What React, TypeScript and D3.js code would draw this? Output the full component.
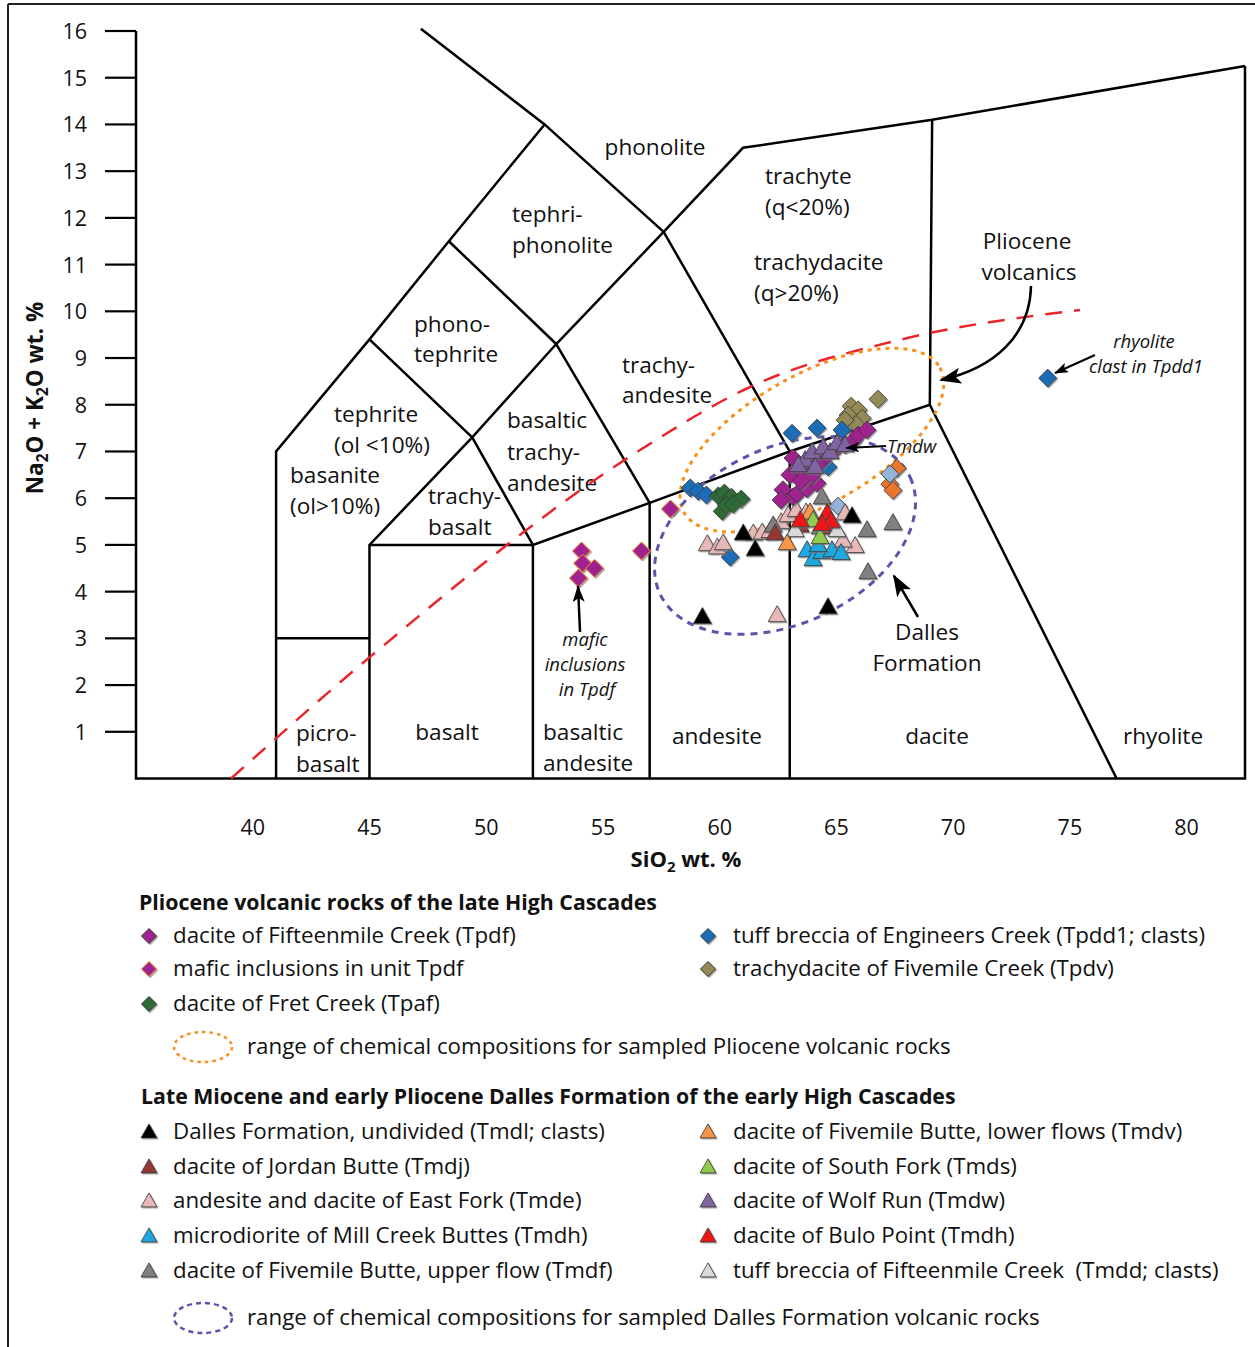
import React from 'react';
import * as d3 from 'd3';

// ---------- axes ----------
const xTickValues = [40, 45, 50, 55, 60, 65, 70, 75, 80];
const yTickValues = [1, 2, 3, 4, 5, 6, 7, 8, 9, 10, 11, 12, 13, 14, 15, 16];

// ---------- TAS field boundaries [SiO2, Na2O+K2O] ----------
const tasLines: [number, number][][] = [
  [[41, 0], [41, 7], [45, 9.4], [48.4, 11.5], [52.5, 14], [47.2, 16.05]],
  [[41, 3], [45, 3]],
  [[45, 0], [45, 5], [49.4, 7.3], [53, 9.3], [57.6, 11.7], [61, 13.5], [69.1, 14.1], [82.5, 15.25]],
  [[45, 5], [52, 5], [57, 5.9], [63, 7], [69, 8], [77, 0]],
  [[52, 0], [52, 5]],
  [[57, 0], [57, 5.9]],
  [[63, 0], [63, 7]],
  [[69, 8], [69.1, 14.1]],
  [[49.4, 7.3], [52, 5]],
  [[53, 9.3], [57, 5.9]],
  [[57.6, 11.7], [63, 7]],
  [[45, 9.4], [49.4, 7.3]],
  [[48.4, 11.5], [53, 9.3]],
  [[52.5, 14], [57.6, 11.7]],
];
const alkalineLine: [number, number][] = [
  [39.07, 0], [45.11, 2.64], [56.59, 7.03], [61.3, 8.38], [67.72, 9.39], [75.43, 10.03],
];

// ---------- data: diamonds (Pliocene) ----------
const tpdf: [number, number][] = [
  [63.14, 6.86], [63.01, 6.5], [62.71, 6.18], [63.14, 6.03], [62.63, 5.96], [63.31, 6.09],
  [63.74, 6.2], [64.17, 6.32], [63.87, 6.71], [63.44, 6.6], [63.96, 6.5], [64.31, 6.77],
  [65.37, 7.14], [65.67, 7.2], [65.93, 7.35], [66.31, 7.46], [65.07, 7.1], [64.6, 6.92], [63.49, 6.37],
];
const tpdfMafic: [number, number][] = [
  [54.08, 4.87], [54.13, 4.61], [54.64, 4.5], [53.95, 4.29], [56.65, 4.87], [57.89, 5.77],
];
const tpaf: [number, number][] = [
  [59.94, 6.05], [60.2, 6.11], [60.5, 6.02], [60.92, 5.98], [60.11, 5.72], [60.28, 5.85], [60.58, 5.87],
];
const tpdd1: [number, number][] = [
  [58.74, 6.22], [59.08, 6.15], [59.43, 6.07], [60.45, 4.74], [63.1, 7.39], [64.17, 7.5],
  [65.24, 7.46], [64.64, 6.67], [63.57, 6.43], [63.87, 6.32], [74.05, 8.57],
];
const tpdd1Light: [number, number][] = [[67.29, 6.52], [65.07, 5.83]];
const orangeDiamonds: [number, number][] = [[67.59, 6.64], [67.29, 6.3], [67.42, 6.17]];
const tpdv: [number, number][] = [
  [66.78, 8.12], [65.63, 7.97], [65.93, 7.89], [65.5, 7.78], [66.1, 7.71], [65.84, 7.58], [65.37, 7.67],
];

// ---------- data: triangles (Dalles Formation) ----------
const tmdl: [number, number][] = [[61.01, 5.25], [61.52, 4.91], [59.26, 3.46], [65.67, 5.62], [64.64, 3.67]];
const tmdj: [number, number][] = [[62.38, 5.25], [63.45, 5.42], [64.69, 5.38]];
const tmde: [number, number][] = [
  [59.47, 5.02], [59.9, 4.95], [60.15, 5.04], [61.44, 5.25], [61.82, 5.27], [62.16, 5.3], [62.63, 5.49],
  [62.93, 5.64], [63.28, 5.75], [63.7, 5.7], [65.37, 5.68], [65.8, 4.98], [65.28, 5.1], [62.46, 3.5],
];
const tmdhMill: [number, number][] = [[63.74, 4.89], [64.0, 4.7], [64.38, 4.85], [64.81, 4.89], [65.2, 4.83], [64.22, 5.0]];
const tmdf: [number, number][] = [[64.39, 6.02], [64.3, 5.38], [66.31, 5.32], [67.42, 5.47], [66.35, 4.42], [62.29, 5.42]];
const tmdv: [number, number][] = [[62.89, 5.04], [63.87, 5.7]];
const tmds: [number, number][] = [[64.0, 5.53], [64.3, 5.17]];
const tmdw: [number, number][] = [
  [63.66, 6.82], [63.96, 6.99], [64.43, 7.09], [64.73, 6.99], [65.03, 7.18], [65.37, 7.14], [64.09, 6.67], [63.36, 6.71],
];
const tmdhBulo: [number, number][] = [[63.45, 5.53], [64.6, 5.68], [64.77, 5.51], [64.39, 5.45]];
const tmdd: [number, number][] = [[65.03, 5.32], [63.23, 5.32]];

// ---------- legend ----------
const legend1Labels = [
  'dacite of Fifteenmile Creek (Tpdf)',
  'mafic inclusions in unit Tpdf',
  'dacite of Fret Creek (Tpaf)',
  'tuff breccia of Engineers Creek (Tpdd1; clasts)',
  'trachydacite of Fivemile Creek (Tpdv)',
];
const legend2Labels = [
  'Dalles Formation, undivided (Tmdl; clasts)',
  'dacite of Jordan Butte (Tmdj)',
  'andesite and dacite of East Fork (Tmde)',
  'microdiorite of Mill Creek Buttes (Tmdh)',
  'dacite of Fivemile Butte, upper flow (Tmdf)',
  'dacite of Fivemile Butte, lower flows (Tmdv)',
  'dacite of South Fork (Tmds)',
  'dacite of Wolf Run (Tmdw)',
  'dacite of Bulo Point (Tmdh)',
  'tuff breccia of Fifteenmile Creek  (Tmdd; clasts)',
];

const C = {
  tpdf: '#A0238E', mafEdge: '#F7941D', tpaf: '#2E6B36', tpdd1: '#1C6DB7', tpdd1Light: '#95B3D7',
  orange: '#E8772A', tpdv: '#948A54', tmdl: '#000000', tmdj: '#953735', tmde: '#E6B9B8',
  tmdhMill: '#1FA8E0', tmdf: '#808080', tmdv: '#F79646', tmds: '#8FCB4E', tmdw: '#8064A2',
  tmdhBulo: '#F01818', tmdd: '#D9D9D9', red: '#E8262B', ellO: '#F7901E', ellP: '#5B55AA',
};

const FONT = "'Open Sans', Lato, sans-serif";
const FS = 22.3;
const FS_LAB = 22.6;
const FS_IT = 18.5;

const diamondPath = (s: number) => `M0,${-s}L${s},0L0,${s}L${-s},0Z`;
const trianglePath = (w: number, h: number) => `M0,${-h * 0.58}L${w / 2},${h * 0.42}L${-w / 2},${h * 0.42}Z`;

export default function App() {
  const x = d3.scaleLinear().domain([35, 82.5]).range([136, 1245]);
  const y = d3.scaleLinear().domain([0, 16]).range([778.5, 31]);
  const line = d3.line<[number, number]>().x((d) => x(d[0])).y((d) => y(d[1]));
  const curve = d3.line<[number, number]>().x((d) => x(d[0])).y((d) => y(d[1])).curve(d3.curveMonotoneX);

  const ellipse = (cx: number, cy: number, rx: number, ry: number, rot: number, color: string, dash: string, key: string) => (
    <ellipse key={key} cx={0} cy={0} rx={rx} ry={ry}
      transform={`translate(${x(cx)},${y(cy)}) rotate(${rot})`}
      fill="none" stroke={color} strokeWidth={3} strokeDasharray={dash} />
  );

  const dia = (pts: [number, number][], fill: string, stroke: string, key: string, sw = 0.8) =>
    pts.map((p, i) => (
      <path key={key + i} d={diamondPath(9)} transform={`translate(${x(p[0])},${y(p[1])})`}
        fill={fill} stroke={stroke} strokeWidth={sw} filter="url(#sh)" />
    ));
  const tri = (pts: [number, number][], fill: string, key: string) =>
    pts.map((p, i) => (
      <path key={key + i} d={trianglePath(18, 16)} transform={`translate(${x(p[0])},${y(p[1])})`}
        fill={fill} stroke="#333" strokeWidth={0.8} filter="url(#sh)" />
    ));

  const txt = (s: string, px: number, py: number, anchor: string = 'start', extra: any = {}) => (
    <text key={s + px + py} x={px} y={py} textAnchor={anchor} fontFamily={FONT} fontSize={FS_LAB} fill="#111" {...extra}>{s}</text>
  );
  const it = { fontStyle: 'italic', fontSize: FS_IT };

  const legendRow1 = [
    { lab: legend1Labels[0], fill: C.tpdf, stroke: '#333', col: 0, row: 0 },
    { lab: legend1Labels[1], fill: C.tpdf, stroke: C.mafEdge, col: 0, row: 1 },
    { lab: legend1Labels[2], fill: C.tpaf, stroke: '#333', col: 0, row: 2 },
    { lab: legend1Labels[3], fill: C.tpdd1, stroke: '#333', col: 1, row: 0 },
    { lab: legend1Labels[4], fill: C.tpdv, stroke: '#333', col: 1, row: 1 },
  ];
  const rows1 = [936, 969, 1004];
  const legendFills2 = [C.tmdl, C.tmdj, C.tmde, C.tmdhMill, C.tmdf, C.tmdv, C.tmds, C.tmdw, C.tmdhBulo, C.tmdd];
  const rows2 = [1132, 1167, 1201, 1236, 1271];
  const colX = [149, 708];
  const colT = [173, 733];

  return (
    <svg width={1255} height={1347} style={{ position: 'absolute', left: 0, top: 0, background: '#fff' }}>
      <defs>
        <filter id="sh" x="-30%" y="-30%" width="160%" height="160%">
          <feDropShadow dx="1.2" dy="1.2" stdDeviation="0.4" floodColor="#777" floodOpacity="0.7" />
        </filter>
        <marker id="ahB" markerUnits="userSpaceOnUse" markerWidth={24} markerHeight={18} refX={20} refY={8} orient="auto">
          <path d="M0,0L22,8L0,16L5,8Z" fill="#000" />
        </marker>
        <marker id="ahM" markerUnits="userSpaceOnUse" markerWidth={20} markerHeight={14} refX={16} refY={6} orient="auto">
          <path d="M0,0L17,6L0,12L4,6Z" fill="#000" />
        </marker>
        <marker id="ahS" markerUnits="userSpaceOnUse" markerWidth={16} markerHeight={12} refX={13} refY={5} orient="auto">
          <path d="M0,0L14,5L0,10L3,5Z" fill="#000" />
        </marker>
      </defs>
      <rect x={0} y={0} width={1255} height={1347} fill="#fff" />
      {/* figure border */}
      <line x1={8} y1={4} x2={1255} y2={4} stroke="#222" strokeWidth={2} />
      <line x1={8} y1={4} x2={8} y2={1347} stroke="#222" strokeWidth={2} />

      {/* frame */}
      <path d={line([[35, 16], [35, 0], [82.5, 0], [82.5, 15.25]]) || ''} fill="none" stroke="#000" strokeWidth={2.5} />
      {/* y ticks */}
      {yTickValues.map((v) => (
        <g key={'yt' + v}>
          <line x1={105} x2={x(35)} y1={y(v)} y2={y(v)} stroke="#000" strokeWidth={2.2} />
          <text x={87} y={y(v) + 8} textAnchor="end" fontFamily={FONT} fontSize={21.5} fill="#111">{v}</text>
        </g>
      ))}
      {xTickValues.map((v) => (
        <g key={'xt' + v}>
          <text x={x(v)} y={835} textAnchor="middle" fontFamily={FONT} fontSize={21.5} fill="#111">{v}</text>
        </g>
      ))}
      <text x={686} y={867} textAnchor="middle" fontFamily={FONT} fontSize={22} fontWeight="bold" fill="#111">
        SiO<tspan dy={5} fontSize={15}>2</tspan><tspan dy={-5}> wt. %</tspan>
      </text>
      <text transform="translate(43,398) rotate(-90)" textAnchor="middle" fontFamily={FONT} fontSize={22.5} fontWeight="bold" fill="#111">
        Na<tspan dy={5} fontSize={15.5}>2</tspan><tspan dy={-5}>O + K</tspan><tspan dy={5} fontSize={15.5}>2</tspan><tspan dy={-5}>O wt. %</tspan>
      </text>

      {/* TAS boundaries */}
      {tasLines.map((l, i) => (
        <path key={'tas' + i} d={line(l) || ''} fill="none" stroke="#000" strokeWidth={2.5} strokeLinejoin="miter" />
      ))}

      {/* field labels */}
      {txt('phonolite', 655, 155, 'middle')}
      {txt('tephri-', 512, 222)}
      {txt('phonolite', 512, 253)}
      {txt('trachyte', 765, 184)}
      {txt('(q<20%)', 765, 215)}
      {txt('trachydacite', 754, 270)}
      {txt('(q>20%)', 754, 301)}
      {txt('Pliocene', 1027, 249, 'middle')}
      {txt('volcanics', 1029, 280, 'middle')}
      {txt('phono-', 414, 332)}
      {txt('tephrite', 414, 362)}
      {txt('trachy-', 622, 373)}
      {txt('andesite', 622, 403)}
      {txt('tephrite', 334, 422)}
      {txt('(ol <10%)', 334, 453)}
      {txt('basanite', 290, 483)}
      {txt('(ol>10%)', 290, 514)}
      {txt('basaltic', 507, 428)}
      {txt('trachy-', 507, 460)}
      {txt('andesite', 507, 491)}
      {txt('trachy-', 428, 504)}
      {txt('basalt', 428, 535)}
      {txt('picro-', 296, 741)}
      {txt('basalt', 296, 772)}
      {txt('basalt', 447, 740, 'middle')}
      {txt('basaltic', 543, 740)}
      {txt('andesite', 543, 771)}
      {txt('andesite', 717, 744, 'middle')}
      {txt('dacite', 937, 744, 'middle')}
      {txt('rhyolite', 1163, 744, 'middle')}
      {txt('Dalles', 927, 640, 'middle')}
      {txt('Formation', 927, 671, 'middle')}
      {txt('mafic', 585, 646, 'middle', it)}
      {txt('inclusions', 585, 671, 'middle', it)}
      {txt('in Tpdf', 587, 696, 'middle', it)}
      {txt('rhyolite', 1144, 348, 'middle', it)}
      {txt('clast in Tpdd1', 1146, 373, 'middle', it)}
      {txt('Tmdw', 887, 453, 'start', it)}

      {/* alkaline / subalkaline dashed line */}
      <path d={curve(alkalineLine) || ''} fill="none" stroke={C.red} strokeWidth={2.5} strokeDasharray="17 12" />

      {/* ellipses */}
      {ellipse(63.95, 7.245, 147, 65, -29.5, C.ellO, '4 5', 'eO')}
      {ellipse(62.8, 5.2, 138, 88, -25, C.ellP, '7 6', 'eP')}

      {/* markers */}
      {dia(tpdv, C.tpdv, '#333', 'tpdv')}
      {dia(tpdd1, C.tpdd1, '#333', 'tpdd1')}
      {dia(tpaf, C.tpaf, '#333', 'tpaf')}
      {dia(tpdfMafic, C.tpdf, C.mafEdge, 'maf', 1)}
      {dia(orangeDiamonds, C.orange, '#333', 'orD')}
      {dia(tpdd1Light, C.tpdd1Light, '#333', 'tpl')}
      {tri(tmde, C.tmde, 'tmde')}
      {tri(tmdf, C.tmdf, 'tmdf')}
      {tri(tmdl, C.tmdl, 'tmdl')}
      {tri(tmdj, C.tmdj, 'tmdj')}
      {tri(tmdd, C.tmdd, 'tmdd')}
      {tri(tmdhMill, C.tmdhMill, 'tmdhM')}
      {tri(tmdv, C.tmdv, 'tmdv')}
      {tri(tmds, C.tmds, 'tmds')}
      {tri(tmdhBulo, C.tmdhBulo, 'tmdhB')}
      {dia(tpdf, C.tpdf, '#333', 'tpdf')}
      {tri(tmdw, C.tmdw, 'tmdw')}

      {/* arrows */}
      <path d="M1031,286 C1030,335 995,368 941,380" fill="none" stroke="#000" strokeWidth={2.5} markerEnd="url(#ahB)" />
      <line x1={580} y1={632} x2={578} y2={586} stroke="#000" strokeWidth={2.5} markerEnd="url(#ahM)" />
      <line x1={918} y1={617} x2={894} y2={576} stroke="#000" strokeWidth={2.5} markerEnd="url(#ahB)" />
      <line x1={1095} y1={355} x2={1055} y2={373} stroke="#000" strokeWidth={2} markerEnd="url(#ahS)" />
      <line x1={886} y1={446} x2={846} y2={448} stroke="#000" strokeWidth={2} markerEnd="url(#ahS)" />

      {/* legend section 1 */}
      <text x={139} y={910} fontFamily={FONT} fontSize={21.3} fontWeight="bold" fill="#111">Pliocene volcanic rocks of the late High Cascades</text>
      {legendRow1.map((itm, i) => (
        <g key={'l1' + i}>
          <path d={diamondPath(7.5)} transform={`translate(${colX[itm.col]},${rows1[itm.row]})`} fill={itm.fill} stroke={itm.stroke} strokeWidth={1} filter="url(#sh)" />
          <text x={colT[itm.col]} y={rows1[itm.row] + 7} fontFamily={FONT} fontSize={FS} fill="#111">{itm.lab}</text>
        </g>
      ))}
      <ellipse cx={203} cy={1047} rx={29} ry={15} fill="none" stroke={C.ellO} strokeWidth={2.5} strokeDasharray="3.5 4" />
      <text x={247} y={1054} fontFamily={FONT} fontSize={FS} fill="#111">range of chemical compositions for sampled Pliocene volcanic rocks</text>

      {/* legend section 2 */}
      <text x={141} y={1104} fontFamily={FONT} fontSize={21.3} fontWeight="bold" fill="#111">Late Miocene and early Pliocene Dalles Formation of the early High Cascades</text>
      {legend2Labels.map((lab, i) => {
        const col = i < 5 ? 0 : 1;
        const row = i % 5;
        return (
          <g key={'l2' + i}>
            <path d={trianglePath(16, 14)} transform={`translate(${colX[col]},${rows2[row]})`} fill={legendFills2[i]} stroke="#333" strokeWidth={0.8} filter="url(#sh)" />
            <text x={colT[col]} y={rows2[row] + 7} fontFamily={FONT} fontSize={FS} fill="#111" style={{ whiteSpace: 'pre' }}>{lab}</text>
          </g>
        );
      })}
      <ellipse cx={203} cy={1318} rx={29} ry={15} fill="none" stroke={C.ellP} strokeWidth={2.5} strokeDasharray="5 4" />
      <text x={247} y={1325} fontFamily={FONT} fontSize={FS} fill="#111">range of chemical compositions for sampled Dalles Formation volcanic rocks</text>
    </svg>
  );
}
